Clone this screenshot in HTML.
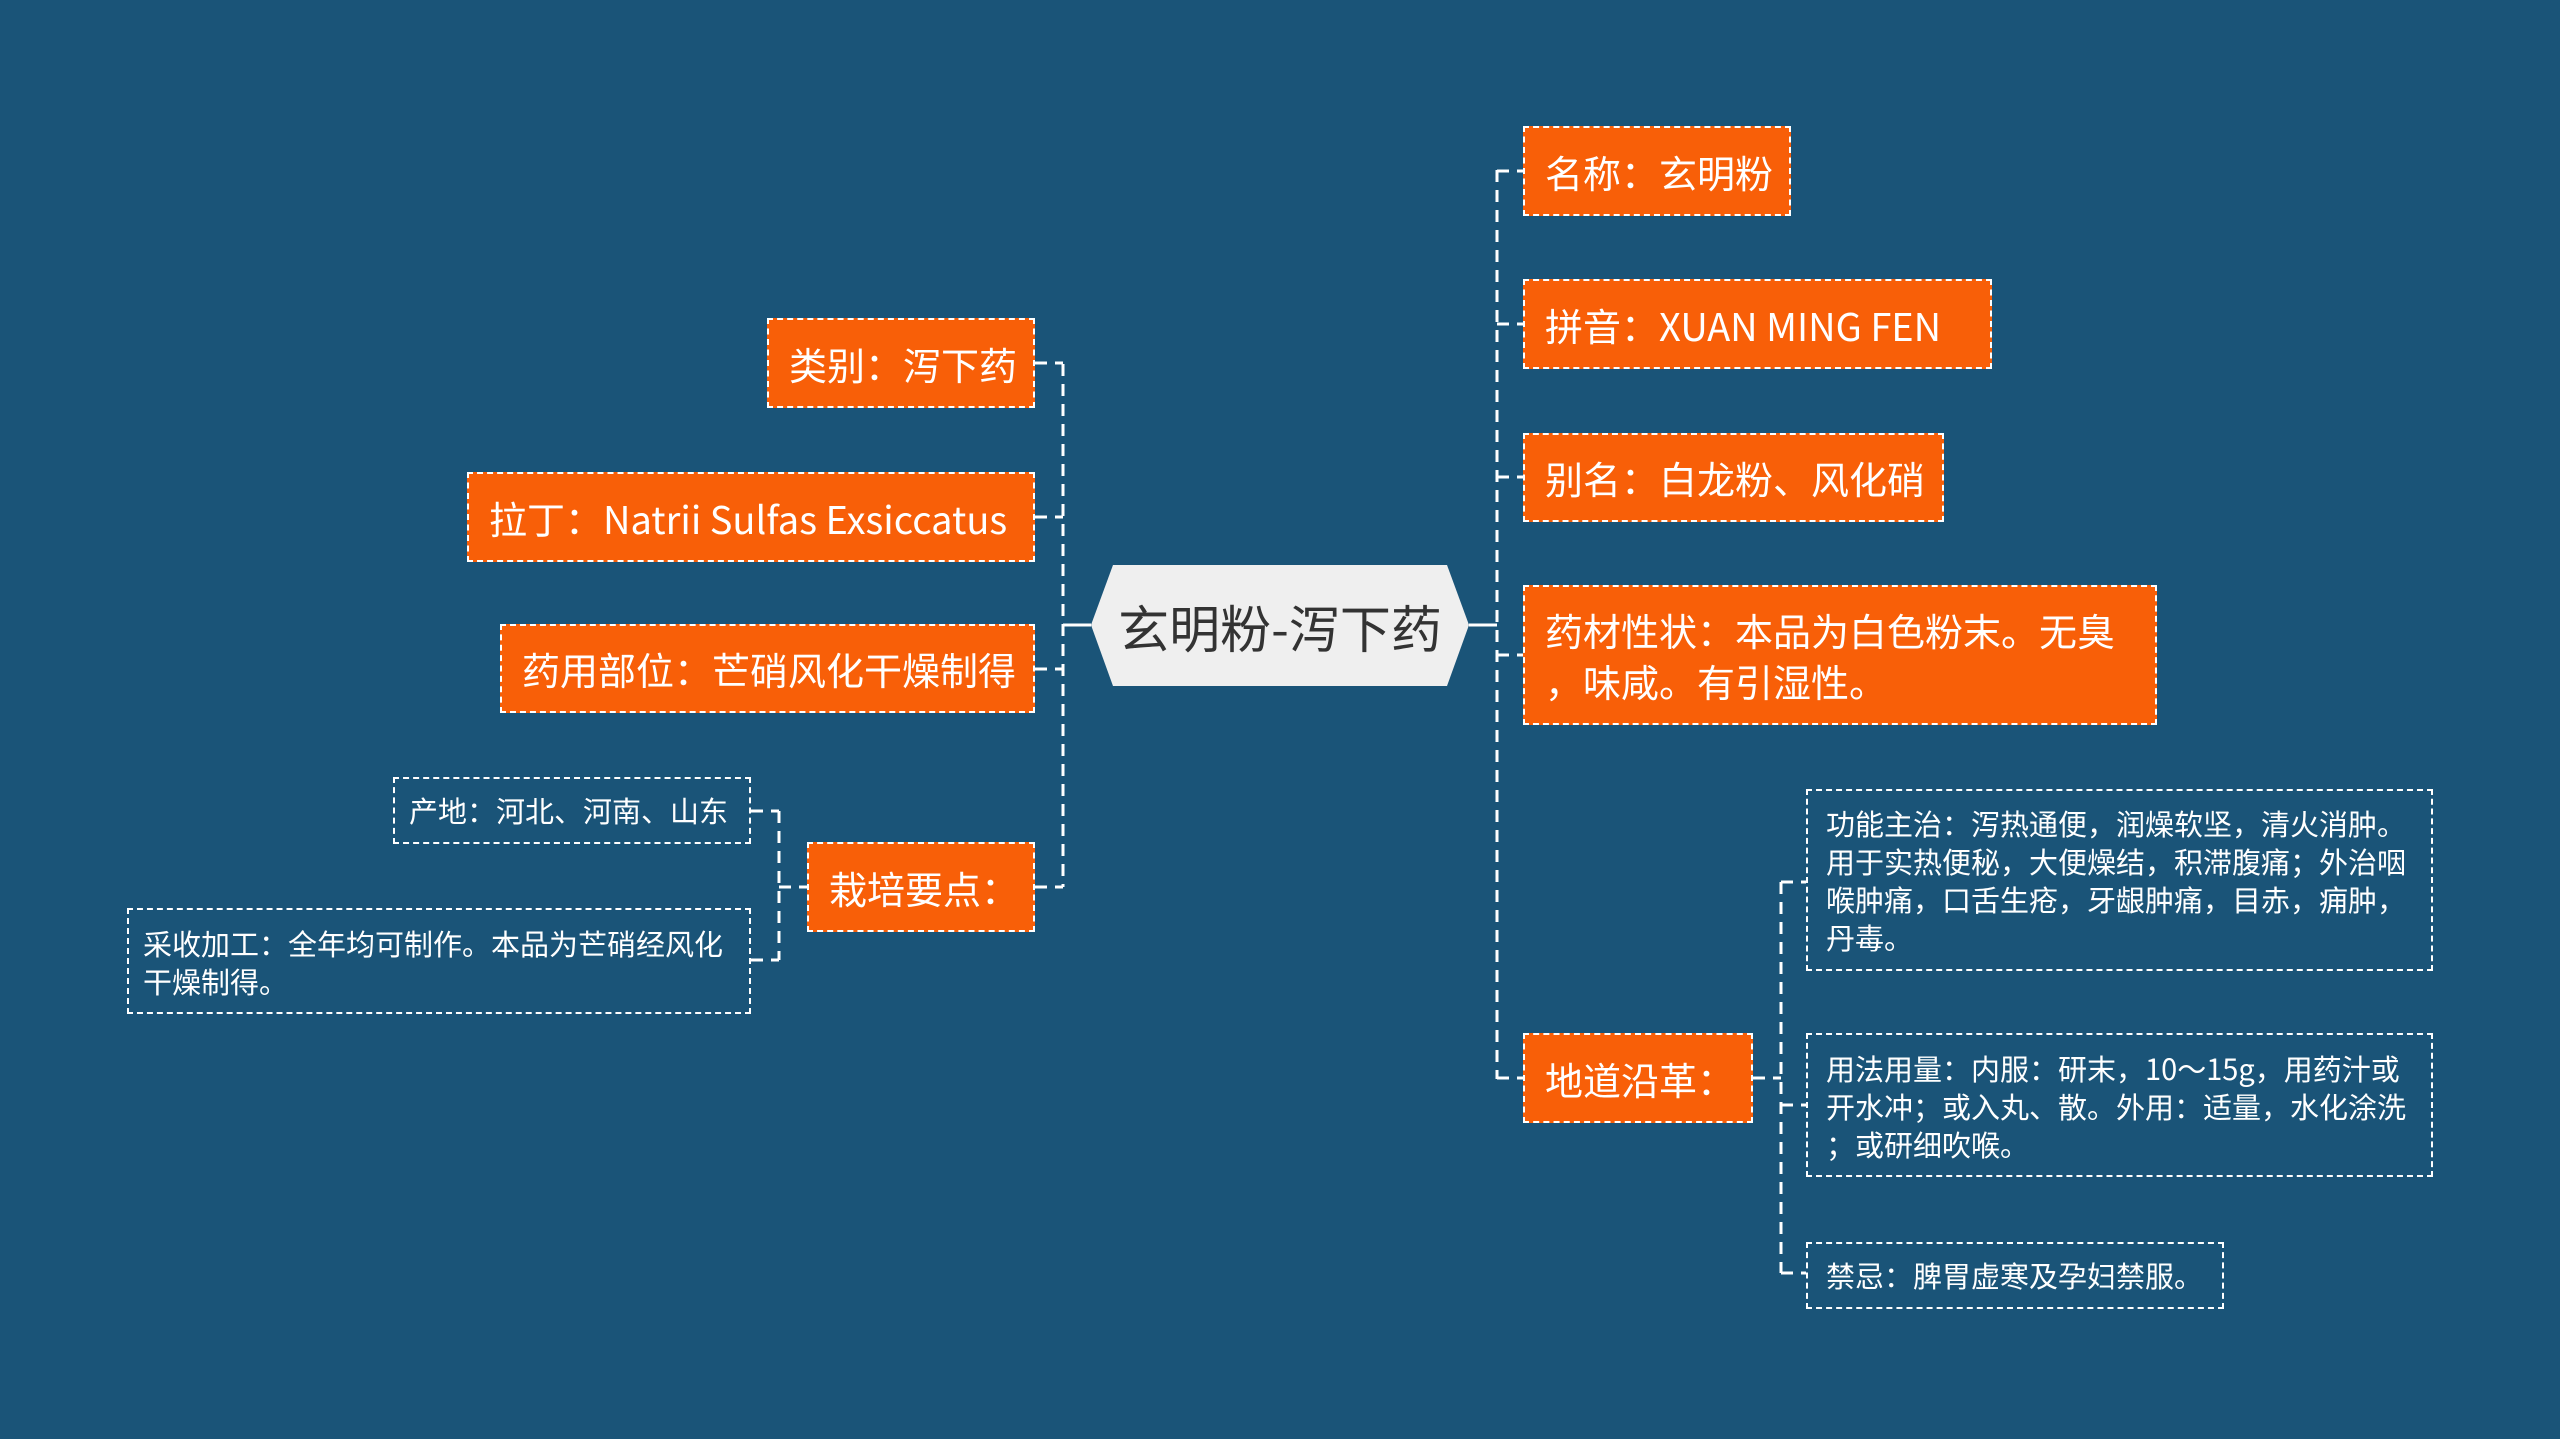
<!DOCTYPE html>
<html><head><meta charset="utf-8"><style>
body{margin:0;width:2560px;height:1439px;background:#1a5478;position:relative;overflow:hidden;font-family:"Noto Sans CJK SC","Liberation Sans",sans-serif;}
.o{position:absolute;background:#f85f08;color:#fff;font-size:38px;box-sizing:border-box;border:2px dashed #fff;padding-left:20px;display:flex;align-items:center;white-space:nowrap;}
.l{position:absolute;color:#fff;font-size:29px;line-height:38px;box-sizing:border-box;border:2px dashed #fff;padding:10px 4px 10px 18px;white-space:nowrap;}
svg{position:absolute;left:0;top:0}
</style></head><body>
<svg width="2560" height="1439" fill="none" stroke="#fff" stroke-width="3" stroke-dasharray="12 8">
<path d="M1497 170V1079"/>
<path d="M1497 171H1523M1497 324H1523M1497 477H1523M1497 655H1523M1497 1078H1523"/>
<path d="M1469 625H1497" stroke-dasharray="none"/>
<path d="M1063 364V887"/>
<path d="M1035 363H1063M1035 517H1063M1035 669H1063M1035 887H1063"/>
<path d="M1063 625H1091" stroke-dasharray="none"/>
<path d="M779 811V960M751 811H779M751 960H779M779 887H807"/>
<path d="M1781 882V1273M1753 1078H1781M1781 882H1806M1781 1105H1806M1781 1273H1806"/>
</svg>
<svg width="2560" height="1439"><polygon points="1091,625 1113,565 1447,565 1469,625 1447,686 1113,686" fill="#efefef"/></svg>
<div style="position:absolute;left:1091px;top:565px;width:378px;height:121px;display:flex;align-items:center;justify-content:center;font-size:51px;color:#333">玄明粉-泻下药</div>
<div class="o" style="left:1523px;top:126px;width:268px;height:90px">名称：玄明粉</div>
<div class="o" style="left:1523px;top:279px;width:469px;height:90px">拼音：XUAN MING FEN</div>
<div class="o" style="left:1523px;top:433px;width:421px;height:89px">别名：白龙粉、风化硝</div>
<div class="o" style="left:1523px;top:585px;width:634px;height:140px;line-height:51px">药材性状：本品为白色粉末。无臭<br>，味咸。有引湿性。</div>
<div class="o" style="left:1523px;top:1033px;width:230px;height:90px">地道沿革：</div>
<div class="o" style="left:767px;top:318px;width:268px;height:90px">类别：泻下药</div>
<div class="o" style="left:467px;top:472px;width:568px;height:90px">拉丁：Natrii Sulfas Exsiccatus</div>
<div class="o" style="left:500px;top:624px;width:535px;height:89px">药用部位：芒硝风化干燥制得</div>
<div class="o" style="left:807px;top:842px;width:228px;height:90px">栽培要点：</div>
<div class="l" style="left:393px;top:777px;width:358px;height:67px;padding-top:12px;padding-left:14px">产地：河北、河南、山东</div>
<div class="l" style="left:127px;top:908px;width:624px;height:106px;padding-top:14px;padding-left:14px">采收加工：全年均可制作。本品为芒硝经风化<br>干燥制得。</div>
<div class="l" style="left:1806px;top:789px;width:627px;height:182px;padding-top:13px">功能主治：泻热通便，润燥软坚，清火消肿。<br>用于实热便秘，大便燥结，积滞腹痛；外治咽<br>喉肿痛，口舌生疮，牙龈肿痛，目赤，痈肿，<br>丹毒。</div>
<div class="l" style="left:1806px;top:1033px;width:627px;height:144px;padding-top:14px">用法用量：内服：研末，10～15g，用药汁或<br>开水冲；或入丸、散。外用：适量，水化涂洗<br>；或研细吹喉。</div>
<div class="l" style="left:1806px;top:1242px;width:418px;height:67px;padding-top:12px">禁忌：脾胃虚寒及孕妇禁服。</div>
</body></html>
